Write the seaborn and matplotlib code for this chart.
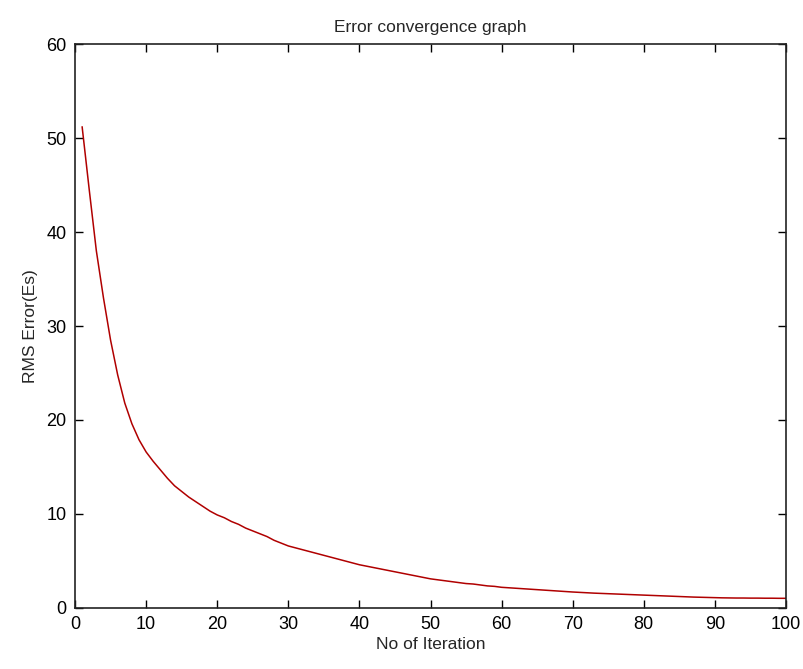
import numpy as np
import pandas as pd
import seaborn as sns
import matplotlib.pyplot as plt

iterations = list(range(1, 101))
rms_error = [
    51.2, 44.5, 38.0, 33.0, 28.5, 24.8, 21.8, 19.6, 17.9, 16.6,
    15.6, 14.7, 13.8, 13.0, 12.4, 11.8, 11.3, 10.8, 10.3, 9.9,
    9.6, 9.2, 8.9, 8.5, 8.2, 7.9, 7.6, 7.2, 6.9, 6.6,
    6.4, 6.2, 6.0, 5.8, 5.6, 5.4, 5.2, 5.0, 4.8, 4.6,
    4.45, 4.3, 4.15, 4.0, 3.85, 3.7, 3.55, 3.4, 3.25, 3.1,
    3.0, 2.9, 2.8, 2.7, 2.6, 2.55, 2.45, 2.35, 2.3, 2.2,
    2.15, 2.1, 2.05, 2.0, 1.95, 1.9, 1.85, 1.8, 1.75, 1.7,
    1.66, 1.62, 1.58, 1.55, 1.52, 1.49, 1.46, 1.43, 1.4, 1.37,
    1.34, 1.31, 1.28, 1.25, 1.22, 1.19, 1.16, 1.14, 1.12, 1.1,
    1.08, 1.07, 1.06, 1.06, 1.05, 1.05, 1.04, 1.04, 1.03, 1.03,
]
x_ticks = [0, 10, 20, 30, 40, 50, 60, 70, 80, 90, 100]
y_ticks = [0, 10, 20, 30, 40, 50, 60]

df = pd.DataFrame({'Iteration': iterations, 'RMS': rms_error})

sns.set_theme(style="ticks")
plt.rcParams['font.family'] = ['Liberation Sans Narrow', 'Liberation Sans', 'DejaVu Sans']

fig = plt.figure(figsize=(8.04, 6.69), dpi=100)
ax = fig.add_axes([0.0933, 0.0912, 0.8843, 0.843])
sns.lineplot(data=df, x='Iteration', y='RMS', color='#b00000', linewidth=1.1, ax=ax)

ax.set_xlim(0, 100)
ax.set_ylim(0, 60)
ax.set_xticks(x_ticks)
ax.set_yticks(y_ticks)
ax.tick_params(direction='in', length=6, width=1, top=True, right=True,
               labelsize=13, colors='black', pad=6)
for s in ax.spines.values():
    s.set_linewidth(1.2)
    s.set_color('#222222')
    s.set_visible(True)

ax.set_title('Error convergence graph', fontsize=12.5, pad=9)
ax.set_xlabel('No of Iteration', fontsize=12.5, labelpad=3)
ax.set_ylabel('RMS Error(Es)', fontsize=12.5, labelpad=6)

fig.savefig('out.png', dpi=100)
